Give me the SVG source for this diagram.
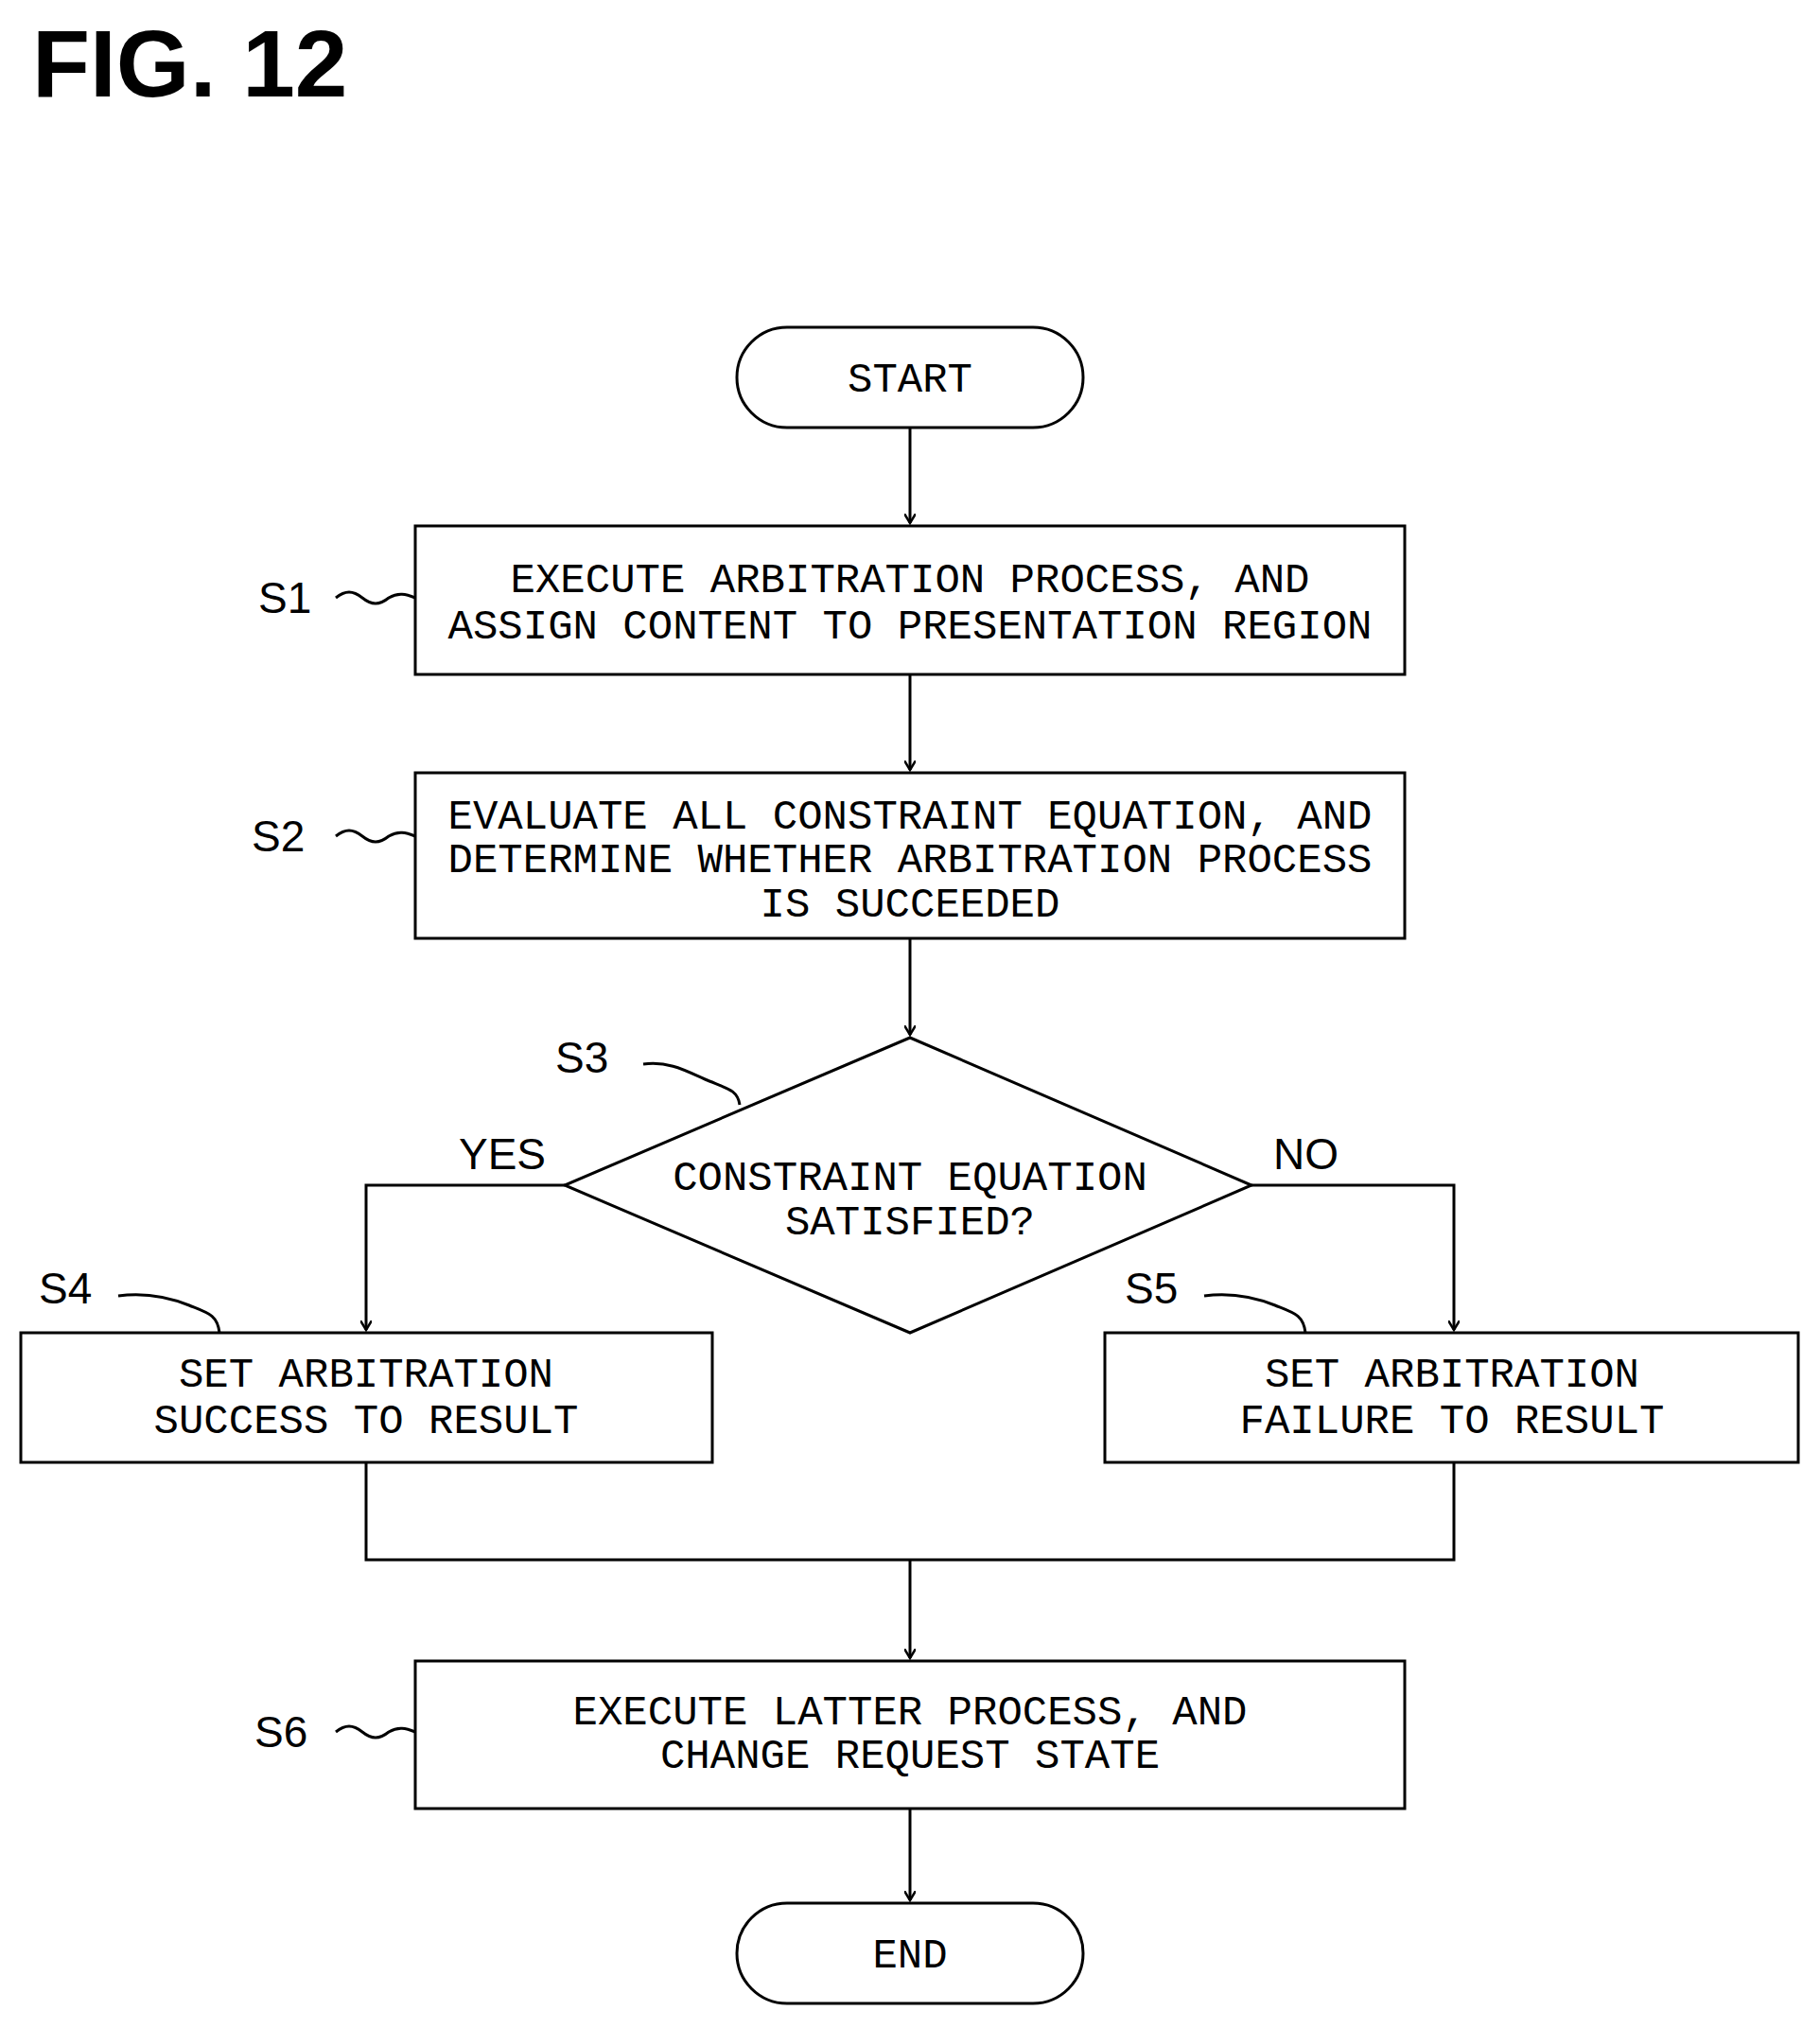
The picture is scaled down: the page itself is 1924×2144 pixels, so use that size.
<svg xmlns="http://www.w3.org/2000/svg" width="1924" height="2144" viewBox="0 0 1924 2144">
<style>
.b{fill:#fff;stroke:#000;stroke-width:3}
.t{font-family:"Liberation Mono",monospace;font-size:44px;text-anchor:middle;fill:#000}
.l{font-family:"Liberation Sans",Arial,sans-serif;font-size:46px;fill:#000}
.c{fill:none;stroke:#000;stroke-width:3}
</style>
<defs><marker id="a" markerWidth="12" markerHeight="12" refX="10" refY="6" orient="auto" markerUnits="userSpaceOnUse"><path d="M0,0 L10,6 L0,12" fill="none" stroke="#000" stroke-width="2.5"/></marker></defs>
<text x="34" y="102" font-family="Liberation Sans,Arial,sans-serif" font-weight="bold" font-size="100">FIG. 12</text>
<g id="connectors" class="c">
<path d="M962,452V553" marker-end="url(#a)"/>
<path d="M962,713V814" marker-end="url(#a)"/>
<path d="M962,992V1094" marker-end="url(#a)"/>
<path d="M597,1253H387V1406" marker-end="url(#a)"/>
<path d="M1323,1253H1537V1406" marker-end="url(#a)"/>
<path d="M387,1546V1649H1537V1546"/>
<path d="M962,1649V1753" marker-end="url(#a)"/>
<path d="M962,1912V2009" marker-end="url(#a)"/>
<path d="M355,632c10,-8 18,-8 28,0s18,8 28,0c10,-6 18,-4 28,0"/>
<path d="M355,884c10,-8 18,-8 28,0s18,8 28,0c10,-6 18,-4 28,0"/>
<path d="M355,1831c10,-8 18,-8 28,0s18,8 28,0c10,-6 18,-4 28,0"/>
<path d="M680,1125c30,-4 50,10 70,18s30,10 32,25"/>
<path d="M125,1370c30,-4 55,2 75,10s30,10 32,29"/>
<path d="M1273,1370c30,-4 55,2 75,10s30,10 32,29"/>
</g>
<g id="start"><rect class="b" x="779" y="346" width="366" height="106" rx="53"/><text class="t" x="962" y="414">START</text></g>
<g id="s1"><rect class="b" x="439" y="556" width="1046" height="157"/><text class="t" x="962" y="626">EXECUTE ARBITRATION PROCESS, AND</text><text class="t" x="962" y="675">ASSIGN CONTENT TO PRESENTATION REGION</text><text class="l" x="273" y="648">S1</text></g>
<g id="s2"><rect class="b" x="439" y="817" width="1046" height="175"/><text class="t" x="962" y="876">EVALUATE ALL CONSTRAINT EQUATION, AND</text><text class="t" x="962" y="922">DETERMINE WHETHER ARBITRATION PROCESS</text><text class="t" x="962" y="969">IS SUCCEEDED</text><text class="l" x="266" y="900">S2</text></g>
<g id="s3"><polygon class="b" points="962,1097 1323,1253 962,1409 597,1253"/><text class="t" x="962" y="1258">CONSTRAINT EQUATION</text><text class="t" x="962" y="1305">SATISFIED?</text><text class="l" x="587" y="1134">S3</text><text class="l" x="485" y="1236">YES</text><text class="l" x="1346" y="1236">NO</text></g>
<g id="s4"><rect class="b" x="22" y="1409" width="731" height="137"/><text class="t" x="387" y="1466">SET ARBITRATION</text><text class="t" x="387" y="1515">SUCCESS TO RESULT</text><text class="l" x="41" y="1378">S4</text></g>
<g id="s5"><rect class="b" x="1168" y="1409" width="733" height="137"/><text class="t" x="1535" y="1466">SET ARBITRATION</text><text class="t" x="1535" y="1515">FAILURE TO RESULT</text><text class="l" x="1189" y="1378">S5</text></g>
<g id="s6"><rect class="b" x="439" y="1756" width="1046" height="156"/><text class="t" x="962" y="1823">EXECUTE LATTER PROCESS, AND</text><text class="t" x="962" y="1869">CHANGE REQUEST STATE</text><text class="l" x="269" y="1847">S6</text></g>
<g id="end"><rect class="b" x="779" y="2012" width="366" height="106" rx="53"/><text class="t" x="962" y="2080">END</text></g>
</svg>
